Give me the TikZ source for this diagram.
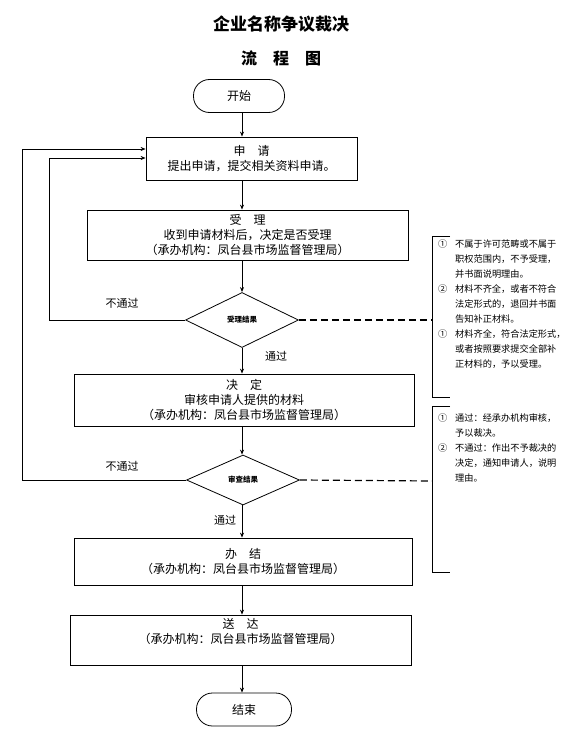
\documentclass[tikz,border=0pt]{standalone}
\usepackage{fontspec}
\setmainfont{Noto Sans CJK SC}
\usetikzlibrary{shapes.geometric,arrows.meta}
\begin{document}
\begin{tikzpicture}[x=1bp,y=-1bp,
  every node/.style={inner sep=0pt},
  boxtext/.style={font=\fontsize{12bp}{15bp}\selectfont},
  stepbox/.style={draw,line width=0.8bp,boxtext,align=center},
  term/.style={draw,line width=0.8bp,rounded corners=16bp,boxtext},
  decide/.style={draw,diamond,aspect=2,line width=0.8bp,font=\fontsize{7.5bp}{9bp}\selectfont\bfseries},
  flow/.style={line width=0.8bp,-{Stealth[length=5bp,width=4bp]}},
  lbl/.style={font=\fontsize{11bp}{13bp}\selectfont},
  note/.style={font=\fontsize{9.2bp}{15bp}\selectfont,align=left,anchor=north west},
  dashline/.style={line width=1.2bp,dash pattern=on 7bp off 4bp}
]
\useasboundingbox (0,0) rectangle (572,752);
\fill[white] (0,0) rectangle (572,752);

% titles
\node[font=\fontsize{17bp}{20bp}\selectfont\bfseries] (title) at (281,24) {企业名称争议裁决};
\node[font=\fontsize{16bp}{20bp}\selectfont\bfseries] (subtitle) at (281,58) {流　程　图};

\coordinate (col) at (242,0);

% nodes
\node[term,minimum width=91bp,minimum height=33bp] (start) at (239,96) {开始};
\node[stepbox,minimum width=211bp,minimum height=43bp] (apply) at (251.5,158.5) {申　请\\提出申请，提交相关资料申请。};
\node[stepbox,minimum width=321bp,minimum height=50bp] (accept) at (247.5,235) {受　理\\收到申请材料后，决定是否受理\\（承办机构：凤台县市场监督管理局）};
\node[decide,minimum width=113bp,minimum height=55bp] (d1) at (242,320) {受理结果};
\node[stepbox,minimum width=340bp,minimum height=52bp] (decision) at (244,400) {决　定\\审核申请人提供的材料\\（承办机构：凤台县市场监督管理局）};
\node[decide,minimum width=113bp,minimum height=50bp] (d2) at (243,480) {审查结果};
\node[stepbox,minimum width=338bp,minimum height=47bp] (finish) at (243,561.5) {办　结\\（承办机构：凤台县市场监督管理局）};
\node[stepbox,minimum width=341bp,minimum height=50bp] (deliver) at (240.5,640) {送　达\\（承办机构：凤台县市场监督管理局）\\[4bp]\mbox{}};
\node[term,minimum width=95bp,minimum height=33bp] (end) at (244,709.5) {结束};

% main flow
\draw[flow] (start.south -| col) -- (apply.north -| col);
\draw[flow] (apply.south -| col) -- (accept.north -| col);
\draw[flow] (accept.south -| col) -- (d1.north);
\draw[flow] (d1.south) -- (decision.north -| col);
\node[lbl] (pass1) at (276,356) {通过};
\draw[flow] (decision.south -| col) -- (d2.north -| col);
\draw[flow] (d2.south -| col) -- (finish.north -| col);
\node[lbl] (pass2) at (225,520) {通过};
\draw[flow] (finish.south -| col) -- (deliver.north -| col);
\draw[flow] (deliver.south -| col) -- (end.north -| col);

% feedback loops
\coordinate (l1) at (49,158);
\coordinate (l2) at (22,149);
\draw[flow] (d1.west) -| (l1) -- (apply.west |- l1);
\draw[flow] (d2.west) -| (l2) -- (apply.west |- l2);
\node[lbl] (fail1) at (122,303) {不通过};
\node[lbl] (fail2) at (122,466) {不通过};

% note brackets
\coordinate (b1) at (432,320);
\coordinate (b2) at (432,481);
\draw[dashline] (d1.east) -- (b1);
\draw[dashline] (d2.east) -- (b2);
\draw[line width=0.8bp] (450,236) -- (432,236) -- (432,397) -- (450,397);
\draw[line width=0.8bp] (450,406) -- (432,406) -- (432,572) -- (450,572);

\node[note] (n1) at (438,240) {%
\makebox[17bp][l]{①}不属于许可范畴或不属于\\
\hspace*{17bp}职权范围内，不予受理，\\
\hspace*{17bp}并书面说明理由。\\
\makebox[17bp][l]{②}材料不齐全，或者不符合\\
\hspace*{17bp}法定形式的，退回并书面\\
\hspace*{17bp}告知补正材料。\\
\makebox[17bp][l]{①}材料齐全，符合法定形式，\\
\hspace*{17bp}或者按照要求提交全部补\\
\hspace*{17bp}正材料的，予以受理。};

\node[note] (n2) at (438,414) {%
\makebox[17bp][l]{①}通过：经承办机构审核，\\
\hspace*{17bp}予以裁决。\\
\makebox[17bp][l]{②}不通过：作出不予裁决的\\
\hspace*{17bp}决定，通知申请人，说明\\
\hspace*{17bp}理由。};
\end{tikzpicture}
\end{document}
